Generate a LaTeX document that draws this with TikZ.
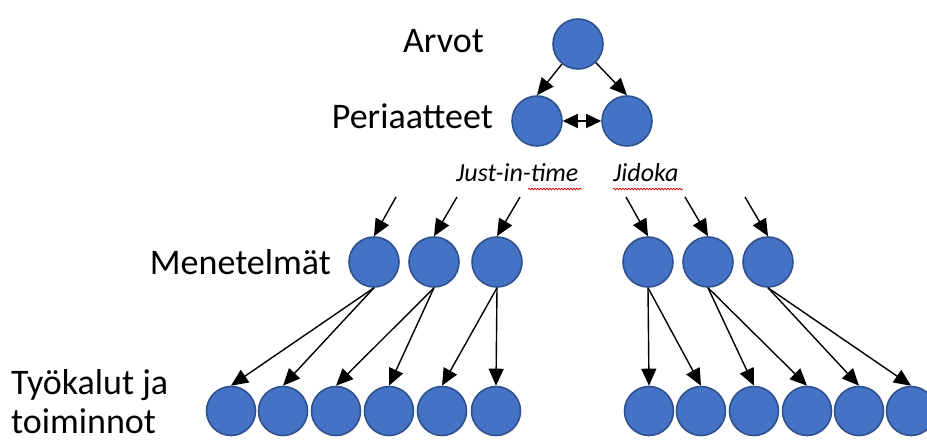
\documentclass[tikz,border=0pt]{standalone}
\usepackage{fontspec}
\setmainfont{Carlito}
\usetikzlibrary{arrows.meta,decorations.pathmorphing}
\definecolor{nodeblue}{RGB}{68,114,196}
\definecolor{nodeedge}{RGB}{47,82,143}

\begin{document}
\begin{tikzpicture}
[x=1pt,y=-1pt
,bn/.style={circle,draw=nodeedge,fill=nodeblue,line width=1.6pt,minimum size=50pt,inner sep=0pt}
,leaf/.style={bn,minimum size=49pt}
,be/.style={draw=black,line width=1.4pt,arrows={-Triangle[length=17pt,width=15pt]}}
,bb/.style={be,arrows={Triangle[length=15pt,width=14pt]-Triangle[length=15pt,width=14pt]}}
,lbl/.style={font=\fontsize{36}{40}\selectfont,inner sep=0pt}
,tag/.style={font=\fontsize{26}{30}\selectfont\itshape,inner sep=0pt}
,spell/.style={draw=red!80!black,line width=0.7pt,decorate,decoration={snake,amplitude=0.9pt,segment length=3pt}}]
\useasboundingbox (0,0) rectangle (927,443);
% level labels
\node[lbl,anchor=base east] (larvot) at (484,53) {Arvot};
\node[lbl,anchor=base east] (lperi) at (493,129) {Periaatteet};
\node[lbl,anchor=base east] (lmene) at (331,275) {Menetelmät};
\node[lbl,anchor=base west] (ltyo) at (11,395) {Työkalut ja};
\node[lbl,anchor=base west] (ltoim) at (11,434) {toiminnot};
\node[tag,anchor=base west] (ljit) at (456,182) {Just-in-time};
\node[tag,anchor=base west] (ljid) at (613,182) {Jidoka};
\draw[spell] (528,189) -- (582,189);
\draw[spell] (613,189) -- (683,189);
% values and principles
\node[bn] (a0) at (578,44) {};
\node[bn] (p1) at (537,121) {};
\node[bn] (p2) at (627,121) {};
\draw[be] (a0) -- (p1.north);
\draw[be] (a0) -- (p2.north);
\draw[bb] (p1) -- (p2);
% methods
\node[bn] (m1) at (374,262) {};
\node[bn] (m2) at (434,262) {};
\node[bn] (m3) at (497,262) {};
\node[bn] (m4) at (648,262) {};
\node[bn] (m5) at (708,262) {};
\node[bn] (m6) at (768,262) {};
\coordinate (c1) at (396,197);
\coordinate (c2) at (457,197);
\coordinate (c3) at (520,197);
\coordinate (c4) at (626,197);
\coordinate (c5) at (685,197);
\coordinate (c6) at (745,197);
\draw[be] (c1) -- (m1.north);
\draw[be] (c2) -- (m2.north);
\draw[be] (c3) -- (m3.north);
\draw[be] (c4) -- (m4.north);
\draw[be] (c5) -- (m5.north);
\draw[be] (c6) -- (m6.north);
% tools
\node[leaf] (t1) at (231,411) {};
\node[leaf] (t2) at (283,411) {};
\node[leaf] (t3) at (336,411) {};
\node[leaf] (t4) at (389,411) {};
\node[leaf] (t5) at (442,411) {};
\node[leaf] (t6) at (496,411) {};
\node[leaf] (t7) at (649,411) {};
\node[leaf] (t8) at (701,411) {};
\node[leaf] (t9) at (754,411) {};
\node[leaf] (t10) at (807,411) {};
\node[leaf] (t11) at (859,411) {};
\node[leaf] (t12) at (911,411) {};
\draw[be] (m1.south) -- (t1.north);
\draw[be] (m1.south) -- (t2.north);
\draw[be] (m2.south) -- (t3.north);
\draw[be] (m2.south) -- (t4.north);
\draw[be] (m3.south) -- (t5.north);
\draw[be] (m3.south) -- (t6.north);
\draw[be] (m4.south) -- (t7.north);
\draw[be] (m4.south) -- (t8.north);
\draw[be] (m5.south) -- (t9.north);
\draw[be] (m5.south) -- (t10.north);
\draw[be] (m6.south) -- (t11.north);
\draw[be] (m6.south) -- (t12.north);
\end{tikzpicture}
\end{document}
